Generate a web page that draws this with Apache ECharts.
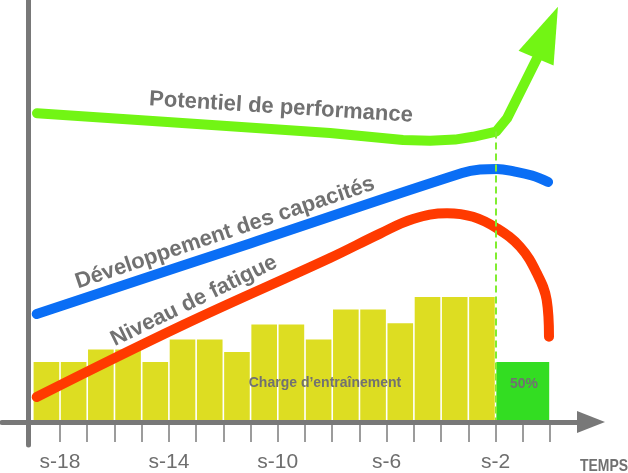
<!DOCTYPE html>
<html>
<head>
<meta charset="utf-8">
<script src="https://cdn.jsdelivr.net/npm/echarts@6/dist/echarts.min.js"></script>
<style>html,body{margin:0;padding:0;background:#fff}#c{width:628px;height:473px}</style>
</head>
<body>
<div id="c"></div>
<script>
// ---- data ----
const tickLabels = ['', 's-18', '', '', '', 's-14', '', '', '', 's-10', '', '', '', 's-6', '', '', '', 's-2', '', ''];
const trainingLoad = [48, 48, 58, 58, 48, 66, 66, 56, 78, 78, 66, 90, 90, 79, 100, 100, 100];
const taperLoad = 48;
const performance = [[0.154, 77.2], [4.675, 75.1], [10.92, 72.25], [13.6, 70.5], [14.6, 70.3], [15.51, 70.6], [16.17, 71.3], [17.02, 72.6], [17.42, 75.9], [18.52, 90.9], [18.65, 92.6]];
const performanceArrow = [18.89, 97.4];
const capacity = [[0.143, 27], [7.98, 44.65], [15.77, 62.25], [16.43, 63.1], [17.05, 63.25], [17.71, 62.6], [18.34, 61.6], [18.93, 60]];
const fatigue = [[0.143, 6.25], [5.518, 24.25], [10.918, 41], [12.755, 47.1], [13.968, 50.75], [15.217, 52.2], [16.172, 51.3], [17.054, 48.4], [17.899, 43.8], [18.512, 37.25], [18.879, 30.5], [18.963, 21.3]];
const taperStart = 17;

const GREY = '#787878';
const TXT = '#717171';

const barData = trainingLoad.map((v, i) => ({ value: [i, i + 1, v], itemStyle: { color: '#dddd22' } }));
barData.push({ value: [taperStart, taperStart + 2, taperLoad], itemStyle: { color: '#33dd22' } });

const chart = echarts.init(document.getElementById('c'), null, { renderer: 'canvas' });
chart.setOption({
  animation: false,
  backgroundColor: '#fff',
  grid: [
    { left: 2, right: 37, top: 0, bottom: 28 },
    { left: 32.8, right: 78, top: 22, bottom: 51 }
  ],
  xAxis: [
    { gridIndex: 0, type: 'value', min: -26, max: 563, z: 5,
      axisLine: { show: true, onZero: true, symbol: ['none', 'triangle'], symbolSize: [22, 28], lineStyle: { color: GREY, width: 5 } },
      axisTick: { show: false }, axisLabel: { show: false }, splitLine: { show: false } },
    { gridIndex: 1, type: 'category', boundaryGap: false, data: tickLabels, position: 'bottom',
      axisLine: { show: false },
      axisTick: { show: true, length: 20, interval: (i) => i > 0, lineStyle: { color: '#9c9c9c', width: 2 } },
      axisLabel: { interval: 0, margin: 30, fontSize: 21, color: '#6e6e6e', fontFamily: 'Liberation Sans, Arial, sans-serif' },
      splitLine: { show: false } },
    { gridIndex: 1, type: 'value', min: 0, max: 19, show: false }
  ],
  yAxis: [
    { gridIndex: 0, type: 'value', min: -23, max: 422, z: 5,
      axisLine: { show: true, onZero: true, lineStyle: { color: GREY, width: 5 } },
      axisTick: { show: false }, axisLabel: { show: false }, splitLine: { show: false } },
    { gridIndex: 1, type: 'value', min: 0, max: 320, show: false },
    { gridIndex: 1, type: 'value', min: 0, max: 100, show: false }
  ],
  series: [
    { type: 'custom', xAxisIndex: 2, yAxisIndex: 1, z: 1, silent: true,
      encode: { x: [0, 1], y: 2 },
      data: barData,
      renderItem: function (params, api) {
        const p0 = api.coord([api.value(0), 0]);
        const p1 = api.coord([api.value(1), api.value(2)]);
        const gap = 1.6;
        return { type: 'rect', shape: { x: p0[0] + gap / 2, y: p1[1], width: p1[0] - p0[0] - gap, height: p0[1] - p1[1] },
          style: { fill: api.visual('color') } };
      } },
    { type: 'line', name: 'Niveau de fatigue', xAxisIndex: 2, yAxisIndex: 2, z: 3, data: fatigue, smooth: 0.4, symbol: 'none', clip: false, silent: true,
      lineStyle: { color: '#ff3a00', width: 10, cap: 'round', join: 'round' } },
    { type: 'line', name: 'Développement des capacités', xAxisIndex: 2, yAxisIndex: 2, z: 3, data: capacity, smooth: 0.4, symbol: 'none', clip: false, silent: true,
      lineStyle: { color: '#0a6ef5', width: 10, cap: 'round', join: 'round' } },
    { type: 'line', name: 'Potentiel de performance', xAxisIndex: 2, yAxisIndex: 2, z: 4, data: performance, smooth: false, symbol: 'none', clip: false, silent: true,
      lineStyle: { color: '#72f514', width: 10, cap: 'round', join: 'round' },
      markLine: { silent: true, symbol: ['none', 'none'], label: { show: false },
        lineStyle: { color: '#80ee30', width: 2, type: [7, 4] },
        data: [[{ coord: [taperStart, performance[7][1]] }, { coord: [taperStart, 0] }]] } },
    { type: 'scatter', xAxisIndex: 2, yAxisIndex: 2, z: 4, silent: true, clip: false,
      data: [performanceArrow], symbol: 'triangle', symbolSize: [38, 56], symbolRotate: -23,
      itemStyle: { color: '#72f514', opacity: 1 } }
  ],
  graphic: [
    { type: 'text', x: 281, y: 107.5, rotation: -3.6 * Math.PI / 180, silent: true,
      style: { text: 'Potentiel de performance', fill: TXT, font: 'bold 22px Liberation Sans, Arial, sans-serif', align: 'center', verticalAlign: 'middle' } },
    { type: 'text', x: 225, y: 233, rotation: 18.5 * Math.PI / 180, silent: true,
      style: { text: 'Développement des capacités', fill: TXT, font: 'bold 22px Liberation Sans, Arial, sans-serif', align: 'center', verticalAlign: 'middle' } },
    { type: 'text', x: 194, y: 301, rotation: 26 * Math.PI / 180, silent: true,
      style: { text: 'Niveau de fatigue', fill: TXT, font: 'bold 22px Liberation Sans, Arial, sans-serif', align: 'center', verticalAlign: 'middle' } },
    { type: 'text', x: 325, y: 383, silent: true, z: 10,
      style: { text: 'Charge d’entraînement', fill: TXT, font: 'bold 14px Liberation Sans, Arial, sans-serif', align: 'center', verticalAlign: 'middle' } },
    { type: 'text', x: 524, y: 384, silent: true, z: 10,
      style: { text: '50%', fill: TXT, font: 'bold 14px Liberation Sans, Arial, sans-serif', align: 'center', verticalAlign: 'middle' } },
    { type: 'text', x: 580, y: 466, scaleX: 0.82, silent: true,
      style: { text: 'TEMPS', fill: TXT, font: 'bold 17px Liberation Sans, Arial, sans-serif', align: 'left', verticalAlign: 'middle' } }
  ]
});
</script>
</body>
</html>
